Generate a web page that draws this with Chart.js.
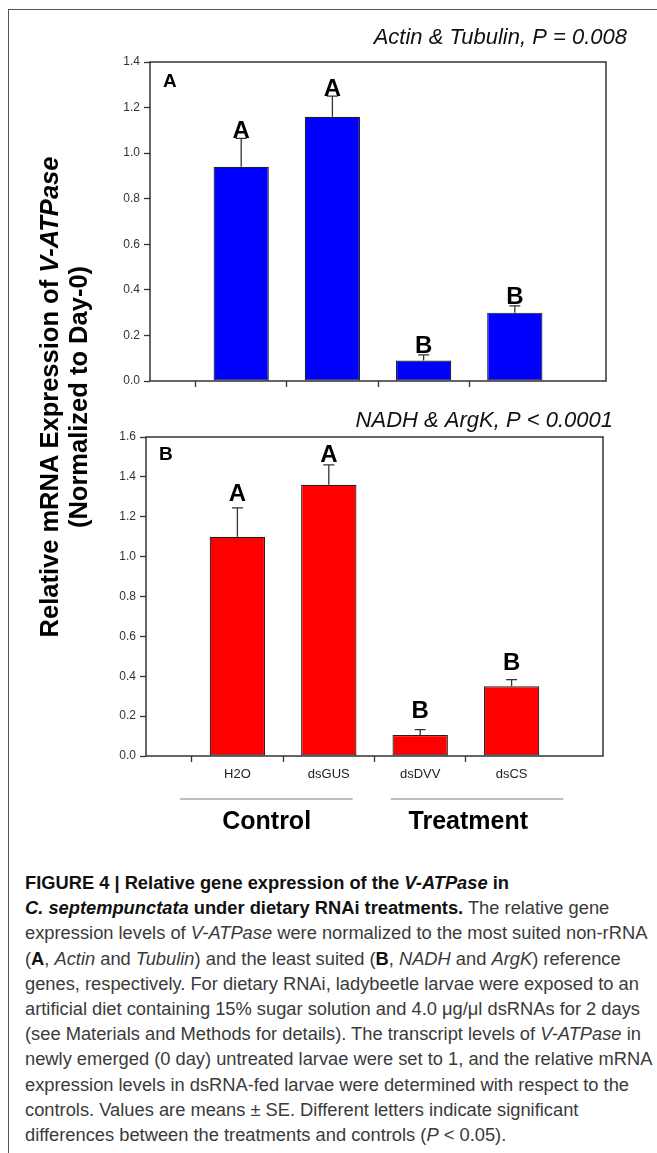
<!DOCTYPE html>
<html>
<head>
<meta charset="utf-8">
<script src="https://cdn.jsdelivr.net/npm/chart.js@4.4.1/dist/chart.umd.min.js"></script>
<style>
  html, body { margin: 0; padding: 0; background: #fff; }
  body { width: 657px; height: 1153px; position: relative; overflow: hidden; }
  #frame { position: absolute; left: 8px; top: 9px; width: 700px; height: 1200px;
           border-top: 1.5px solid #555; border-left: 1.5px solid #555; }
  canvas { position: absolute; left: 0; }
  #chartA { top: 0; }
  #chartB { top: 400px; }
  #ytitle { position: absolute; left: -196px; top: 368px; width: 520px; height: 58px;
            transform: rotate(-90deg); text-align: center;
            font: bold 25.5px "Liberation Sans", Arial, sans-serif; line-height: 29px; color: #000; white-space: nowrap; }
  #caption { position: absolute; left: 25px; top: 871px; white-space: nowrap; transform-origin: 0 0;
             font: 17.5px "Liberation Sans", Arial, sans-serif; line-height: 25.2px; color: #3a3a3a; }
  #caption span { display: inline-block; }
  #caption b { color: #111; }
</style>
</head>
<body>
<div id="frame"></div>
<canvas id="chartA" width="657" height="400"></canvas>
<canvas id="chartB" width="657" height="460"></canvas>
<div id="ytitle">Relative mRNA Expression of <i>V-ATPase</i><br>(Normalized to Day-0)</div>
<div id="caption">
<span><b>FIGURE 4 | Relative gene expression of the <i>V-ATPase</i> in</b></span><br>
<span><b><i>C. septempunctata</i> under dietary RNAi treatments.</b> The relative gene</span><br>
<span>expression levels of <i>V-ATPase</i> were normalized to the most suited non-rRNA</span><br>
<span>(<b>A</b>, <i>Actin</i> and <i>Tubulin</i>) and the least suited (<b>B</b>, <i>NADH</i> and <i>ArgK</i>) reference</span><br>
<span>genes, respectively. For dietary RNAi, ladybeetle larvae were exposed to an</span><br>
<span id="widest">artificial diet containing 15% sugar solution and 4.0 &mu;g/&mu;l dsRNAs for 2 days</span><br>
<span>(see Materials and Methods for details). The transcript levels of <i>V-ATPase</i> in</span><br>
<span>newly emerged (0 day) untreated larvae were set to 1, and the relative mRNA</span><br>
<span>expression levels in dsRNA-fed larvae were determined with respect to the</span><br>
<span>controls. Values are means &plusmn; SE. Different letters indicate significant</span><br>
<span>differences between the treatments and controls (<i>P</i> &lt; 0.05).</span>
</div>
<script>
const categories = ['H2O', 'dsGUS', 'dsDVV', 'dsCS'];

// panel A: Actin & Tubulin
const meanA = [0.94, 1.16, 0.09, 0.30];
const seA = [0.125, 0.09, 0.025, 0.03];
const lettersA = ['A', 'A', 'B', 'B'];

// panel B: NADH & ArgK
const meanB = [1.10, 1.36, 0.105, 0.35];
const seB = [0.145, 0.10, 0.027, 0.033];
const lettersB = ['A', 'A', 'B', 'B'];

const groups = ['Control', 'Treatment'];

const FONT = '"Liberation Sans", Arial, sans-serif';

// the caption font in the figure is condensed, squeeze it to the same line length
const cap = document.getElementById('caption');
const w = document.getElementById('widest').getBoundingClientRect().width;
cap.style.transform = 'scaleX(' + (615 / w) + ')';

// empty slot at each end, like the SigmaPlot layout
const paddedLabels = ['', ...categories, ''];
const pad = arr => [null, ...arr, null];

const extras = {
  id: 'extras',
  afterDatasetsDraw(chart, args, o) {
    const { ctx, chartArea: a, scales: { x, y } } = chart;
    ctx.save();

    // error bars (upper half only) and significance letters
    o.means.forEach((m, i) => {
      const px = x.getPixelForValue(i + 1);
      const y0 = y.getPixelForValue(m);
      const y1 = y.getPixelForValue(m + o.se[i]);
      ctx.strokeStyle = '#333';
      ctx.lineWidth = 1.3;
      ctx.beginPath();
      ctx.moveTo(px, y0);
      ctx.lineTo(px, y1);
      ctx.moveTo(px - 5.5, y1);
      ctx.lineTo(px + 5.5, y1);
      ctx.stroke();

      ctx.fillStyle = '#000';
      ctx.font = 'bold ' + o.letterSize + 'px ' + FONT;
      ctx.textAlign = 'center';
      ctx.textBaseline = 'alphabetic';
      ctx.fillText(o.letters[i], px, y1 - o.letterGap[i]);
    });

    // box around plot
    ctx.strokeStyle = '#333';
    ctx.lineWidth = 1.5;
    ctx.strokeRect(a.left, a.top, a.right - a.left, a.bottom - a.top);

    // panel tag
    ctx.fillStyle = '#000';
    ctx.font = 'bold 19px ' + FONT;
    ctx.textAlign = 'left';
    ctx.textBaseline = 'middle';
    ctx.fillText(o.tag, a.left + 13, a.top + o.tagDy);

    // reference gene title
    ctx.font = 'italic 22px ' + FONT;
    ctx.textAlign = 'right';
    ctx.fillStyle = '#111';
    ctx.fillText(o.title, a.right + o.titleDx, a.top + o.titleDy);

    // group brackets under the axis
    if (o.groupSpans) {
      o.groupSpans.forEach((g, i) => {
        ctx.strokeStyle = '#aaa';
        ctx.lineWidth = 1.5;
        ctx.beginPath();
        ctx.moveTo(x.left + g[0] * (x.width / 5), a.bottom + 43);
        ctx.lineTo(x.left + g[1] * (x.width / 5), a.bottom + 43);
        ctx.stroke();
        ctx.fillStyle = '#000';
        ctx.font = 'bold 25px ' + FONT;
        ctx.textAlign = 'center';
        ctx.fillText(groups[i], x.left + g[2] * (x.width / 5), a.bottom + 66);
      });
    }
    ctx.restore();
  }
};

function makePanel(id, o) {
  return new Chart(document.getElementById(id), {
    type: 'bar',
    data: {
      labels: paddedLabels,
      datasets: [{
        data: pad(o.means),
        backgroundColor: o.color,
        borderColor: '#222',
        borderWidth: 1.2,
        borderSkipped: false,
        barPercentage: 0.606,
        categoryPercentage: 1
      }]
    },
    options: {
      responsive: false,
      animation: false,
      events: [],
      layout: { padding: { top: o.top, right: o.right, left: 0, bottom: 0 } },
      plugins: { legend: { display: false }, tooltip: { enabled: false }, extras: o },
      scales: {
        x: {
          type: 'category',
          offset: false,
          border: { display: false },
          grid: {
            drawOnChartArea: false,
            drawTicks: true,
            tickLength: 6,
            tickWidth: 1.3,
            tickColor: c => (c.index === 0 || c.index === paddedLabels.length - 1) ? 'rgba(0,0,0,0)' : '#333'
          },
          ticks: {
            autoSkip: false,
            maxRotation: 0,
            padding: 5,
            color: o.showLabels ? '#222' : 'rgba(0,0,0,0)',
            font: { family: FONT, size: 13 }
          },
          afterFit: s => { s.height = o.xHeight; }
        },
        y: {
          min: 0,
          max: o.max,
          border: { display: false },
          grid: { drawOnChartArea: false, drawTicks: true, tickLength: 6, tickWidth: 1.3, tickColor: '#333' },
          ticks: {
            stepSize: 0.2,
            padding: 4,
            color: '#333',
            font: { family: FONT, size: 12 },
            callback: v => v.toFixed(1)
          },
          afterFit: s => { s.width = o.yWidth; }
        }
      }
    },
    plugins: [extras]
  });
}

makePanel('chartA', {
  means: meanA, se: seA, letters: lettersA, color: '#0000FF',
  max: 1.4, top: 62, right: 51, yWidth: 150, xHeight: 19, showLabels: false,
  letterSize: 24, letterGap: [0, 0, 2, 2],
  tag: 'A', tagDy: 20, title: 'Actin & Tubulin, P = 0.008', titleDx: 21, titleDy: -24
});

makePanel('chartB', {
  means: meanB, se: seB, letters: lettersB, color: '#FF0000',
  max: 1.6, top: 37, right: 54, yWidth: 146, xHeight: 104, showLabels: true,
  letterSize: 24, letterGap: [7, 3, 12, 10],
  tag: 'B', tagDy: 18, title: 'NADH & ArgK, P < 0.0001', titleDx: 10, titleDy: -16,
  groupSpans: [[0.372, 2.261, 1.32], [2.677, 4.566, 3.526]]
});
</script>
</body>
</html>
